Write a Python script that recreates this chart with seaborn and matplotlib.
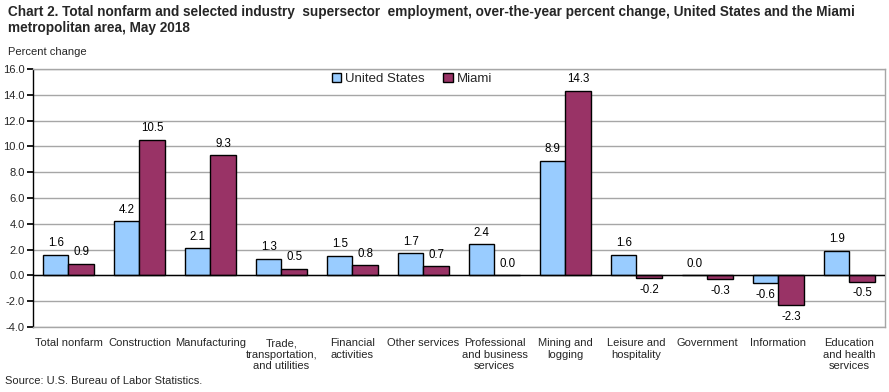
import matplotlib
matplotlib.use("Agg")
import matplotlib.pyplot as plt
import seaborn as sns
import pandas as pd
from matplotlib.patches import Patch

categories = ["Total nonfarm", "Construction", "Manufacturing",
              "Trade,\ntransportation,\nand utilities", "Financial\nactivities",
              "Other services", "Professional\nand business\nservices",
              "Mining and\nlogging", "Leisure and\nhospitality", "Government",
              "Information", "Education\nand health\nservices"]
us_values = [1.6, 4.2, 2.1, 1.3, 1.5, 1.7, 2.4, 8.9, 1.6, 0.0, -0.6, 1.9]
miami_values = [0.9, 10.5, 9.3, 0.5, 0.8, 0.7, 0.0, 14.3, -0.2, -0.3, -2.3, -0.5]
series_names = ["United States", "Miami"]
colors = ["#99CCFF", "#993366"]

sns.set_theme(style="white")
plt.rcParams["font.family"] = ["Liberation Sans", "DejaVu Sans"]

df = pd.DataFrame({
    "category": categories * 2,
    "value": us_values + miami_values,
    "series": [series_names[0]] * len(categories) + [series_names[1]] * len(categories),
})

fig = plt.figure(figsize=(8.89, 3.92), dpi=100)
ax = fig.add_axes([0.0371, 0.1658, 0.9584, 0.6582])

sns.barplot(data=df, x="category", y="value", hue="series", order=categories,
            hue_order=series_names, palette=colors, width=0.72, dodge=True,
            edgecolor="black", linewidth=1.0, saturation=1, ax=ax, legend=False,
            zorder=3)

for cont in ax.containers:
    ax.bar_label(cont, fmt="%.1f", padding=4, fontsize=8.3, color="black")

ax.set_ylim(-4, 16)
ax.set_yticks(range(-4, 17, 2))
ax.set_yticklabels([f"{v:.1f}" for v in range(-4, 17, 2)], fontsize=8)
ax.set_xlim(-0.5, len(categories) - 0.5)
ax.tick_params(axis="x", labelsize=8, length=0, pad=8)
ax.tick_params(axis="y", length=4, direction="out", color="black", pad=2, left=True)
ax.set_xlabel("")
ax.set_ylabel("")
ax.yaxis.grid(True, color="#A6A6A6", linewidth=1, zorder=0)
ax.set_axisbelow(True)
ax.axhline(0, color="black", linewidth=1, zorder=4)
for s in ["top", "right", "bottom"]:
    ax.spines[s].set_color("#A6A6A6")
    ax.spines[s].set_linewidth(1)
ax.spines["left"].set_color("black")
ax.spines["left"].set_linewidth(1)

handles = [Patch(facecolor=c, edgecolor="black", linewidth=1) for c in colors]
ax.legend(handles, series_names, loc="upper center", bbox_to_anchor=(0.445, 1.015),
          ncol=2, frameon=False, fontsize=9.5, handlelength=0.7, handleheight=0.7,
          handletextpad=0.3, columnspacing=1.4, borderaxespad=0.2)

fig.text(0.009, 0.988, "Chart 2. Total nonfarm and selected industry  supersector  employment, over-the-year percent change, United States and the Miami\nmetropolitan area, May 2018",
         fontsize=9.8, fontweight="bold", va="top", ha="left", linespacing=1.25)
fig.text(0.009, 0.868, "Percent change", fontsize=8, va="center", ha="left")
fig.text(0.006, 0.027, "Source: U.S. Bureau of Labor Statistics.", fontsize=8, va="center", ha="left")

fig.savefig("out.png", dpi=100)
